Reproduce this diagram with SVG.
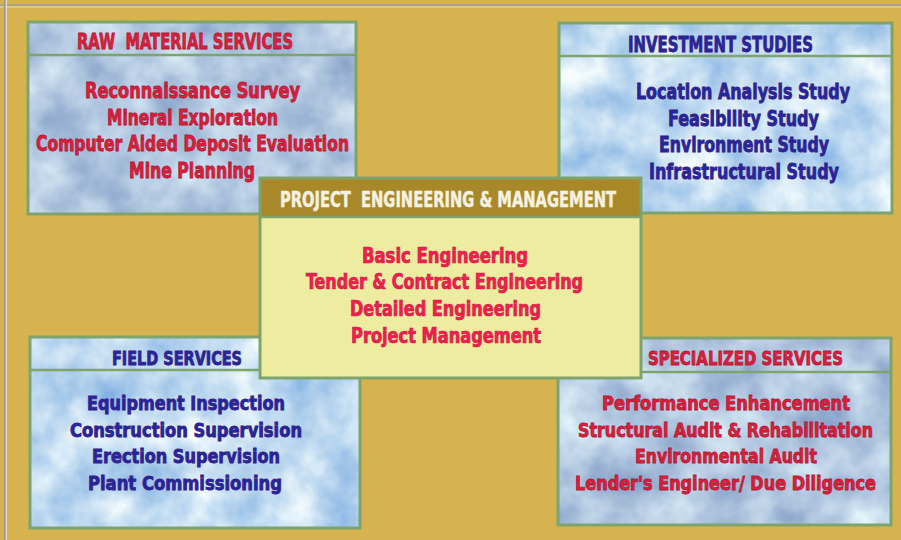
<svg xmlns="http://www.w3.org/2000/svg" width="901" height="540" viewBox="0 0 901 540">
<defs>
<filter id="marbleGray" x="0" y="0" width="1" height="1" color-interpolation-filters="sRGB">
<feTurbulence type="fractalNoise" baseFrequency="0.02" numOctaves="4" seed="7"/>
<feColorMatrix type="matrix" values="0.5 0 0 0 0.45  0.45 0 0 0 0.56  0.28 0 0 0 0.74  0 0 0 0 1"/>
</filter>
<filter id="marbleBlue" x="0" y="0" width="1" height="1" color-interpolation-filters="sRGB">
<feTurbulence type="fractalNoise" baseFrequency="0.022" numOctaves="4" seed="3"/>
<feColorMatrix type="matrix" values="0.6 0 0 0 0.46  0.4 0 0 0 0.66  0.15 0 0 0 0.87  0 0 0 0 1"/>
</filter>
<style>
.box{fill:none;stroke:#7ea36c;stroke-width:3}
.sep{stroke:#7ea36c;stroke-width:2.5}
.t{font-family:"Liberation Sans Narrow","DejaVu Sans Condensed","Liberation Sans",sans-serif;font-weight:bold;text-anchor:middle;white-space:pre}
.red{fill:#dc1f3c;stroke:#b01a36;stroke-width:0.8}
.blue{fill:#26269a;stroke:#34208a;stroke-width:0.8}
.pink{fill:#f0204e;stroke:#d01c46;stroke-width:0.7}
.white{fill:#f6f2e2;stroke:#f6f2e2;stroke-width:0.5}
.h1{font-size:22px}
.b1{font-size:21px}
.h2{font-size:19px}
.b2{font-size:19px}
</style>
</defs>
<rect x="0" y="0" width="901" height="540" fill="#d6b34e"/>
<line x1="0" y1="5" x2="901" y2="5" stroke="#9e9e98" stroke-width="1.5"/>
<line x1="0" y1="7" x2="901" y2="7" stroke="#e6dcc0" stroke-width="1"/>
<line x1="4.5" y1="0" x2="4.5" y2="540" stroke="#9e9e98" stroke-width="1.5"/>
<line x1="6.5" y1="0" x2="6.5" y2="540" stroke="#e6dcc0" stroke-width="1"/>

<g id="raw-material-services">
<rect x="28" y="22" width="328" height="192" fill="#c0cadf" filter="url(#marbleGray)"/>
<rect class="box" x="28" y="22" width="328" height="192"/>
<line class="sep" x1="28" y1="55" x2="356" y2="55"/>
<text class="t red h1" x="185" y="49" textLength="216" lengthAdjust="spacingAndGlyphs" xml:space="preserve">RAW  MATERIAL SERVICES</text>
<text class="t red b1" x="192.5" y="98" textLength="215" lengthAdjust="spacingAndGlyphs">Reconnaissance Survey</text>
<text class="t red b1" x="192.5" y="124.5" textLength="171" lengthAdjust="spacingAndGlyphs">Mineral Exploration</text>
<text class="t red b1" x="192.5" y="151" textLength="313" lengthAdjust="spacingAndGlyphs">Computer Aided Deposit Evaluation</text>
<text class="t red b1" x="192" y="178" textLength="126" lengthAdjust="spacingAndGlyphs">Mine Planning</text>
</g>

<g id="investment-studies">
<rect x="559" y="23" width="333" height="190" fill="#cfe2f4" filter="url(#marbleBlue)"/>
<rect class="box" x="559" y="23" width="333" height="190"/>
<line class="sep" x1="559" y1="56" x2="892" y2="56"/>
<text class="t blue h1" x="720.5" y="51.5" textLength="185" lengthAdjust="spacingAndGlyphs">INVESTMENT STUDIES</text>
<text class="t blue b1" x="743" y="99" textLength="214" lengthAdjust="spacingAndGlyphs">Location Analysis Study</text>
<text class="t blue b1" x="743.5" y="125.5" textLength="151" lengthAdjust="spacingAndGlyphs">Feasibility Study</text>
<text class="t blue b1" x="744" y="152" textLength="170" lengthAdjust="spacingAndGlyphs">Environment Study</text>
<text class="t blue b1" x="744" y="178.5" textLength="190" lengthAdjust="spacingAndGlyphs">Infrastructural Study</text>
</g>

<g id="field-services">
<rect x="30" y="337" width="330" height="191" fill="#c4dcf2" filter="url(#marbleBlue)"/>
<rect class="box" x="30" y="337" width="330" height="191"/>
<line class="sep" x1="30" y1="370" x2="360" y2="370"/>
<text class="t blue h2" x="177" y="365" textLength="130" lengthAdjust="spacingAndGlyphs">FIELD SERVICES</text>
<text class="t blue b2" x="186" y="410" textLength="198" lengthAdjust="spacingAndGlyphs">Equipment Inspection</text>
<text class="t blue b2" x="186" y="437" textLength="232" lengthAdjust="spacingAndGlyphs">Construction Supervision</text>
<text class="t blue b2" x="186" y="463" textLength="188" lengthAdjust="spacingAndGlyphs">Erection Supervision</text>
<text class="t blue b2" x="185" y="490" textLength="194" lengthAdjust="spacingAndGlyphs">Plant Commissioning</text>
</g>

<g id="specialized-services">
<rect x="558" y="338" width="333" height="187" fill="#c0cadf" filter="url(#marbleGray)"/>
<rect class="box" x="558" y="338" width="333" height="187"/>
<line class="sep" x1="558" y1="372" x2="891" y2="372"/>
<text class="t red h2" x="745.5" y="365" textLength="195" lengthAdjust="spacingAndGlyphs">SPECIALIZED SERVICES</text>
<text class="t red b2" x="726" y="410" textLength="248" lengthAdjust="spacingAndGlyphs">Performance Enhancement</text>
<text class="t red b2" x="725.5" y="437" textLength="295" lengthAdjust="spacingAndGlyphs">Structural Audit &amp; Rehabilitation</text>
<text class="t red b2" x="726" y="463" textLength="182" lengthAdjust="spacingAndGlyphs">Environmental Audit</text>
<text class="t red b2" x="725.5" y="490" textLength="301" lengthAdjust="spacingAndGlyphs">Lender's Engineer/ Due Diligence</text>
</g>

<g id="project-engineering-management">
<rect x="260" y="178" width="381" height="200" fill="#edeca0"/>
<rect x="260" y="178" width="381" height="39" fill="#a88829"/>
<rect class="box" x="260" y="178" width="381" height="200"/>
<line class="sep" x1="260" y1="217" x2="641" y2="217"/>
<text class="t white b1" x="448" y="207" textLength="336" lengthAdjust="spacingAndGlyphs" xml:space="preserve">PROJECT  ENGINEERING &amp; MANAGEMENT</text>
<text class="t pink b1" x="445" y="262.5" textLength="166" lengthAdjust="spacingAndGlyphs">Basic Engineering</text>
<text class="t pink b1" x="444.5" y="289" textLength="277" lengthAdjust="spacingAndGlyphs">Tender &amp; Contract Engineering</text>
<text class="t pink b1" x="445.5" y="316" textLength="191" lengthAdjust="spacingAndGlyphs">Detailed Engineering</text>
<text class="t pink b1" x="446" y="342.5" textLength="190" lengthAdjust="spacingAndGlyphs">Project Management</text>
</g>

<g id="connectors"></g>
</svg>
